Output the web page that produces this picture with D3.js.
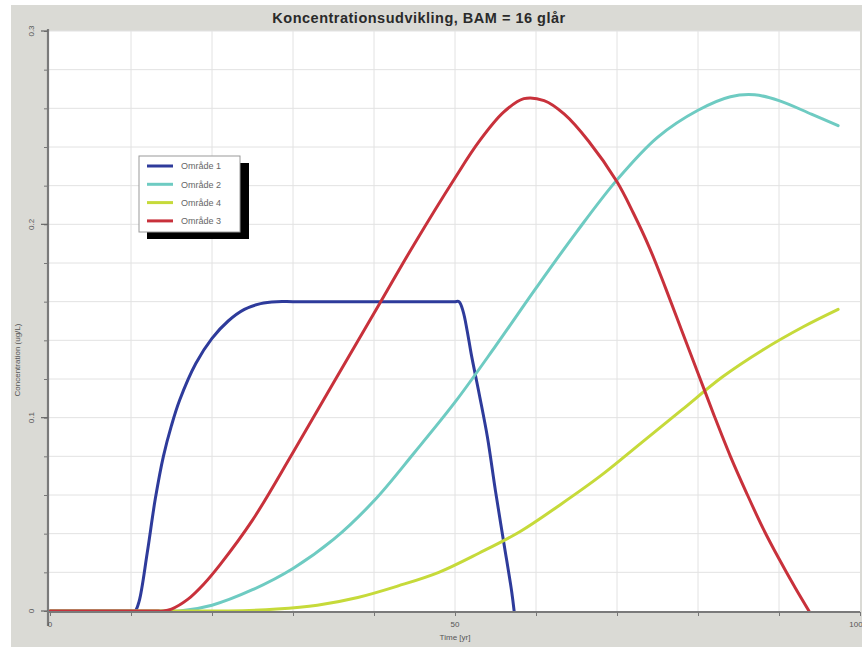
<!DOCTYPE html>
<html>
<head>
<meta charset="utf-8">
<script src="https://cdn.jsdelivr.net/npm/d3@7"></script>
<style>
  html, body { margin: 0; padding: 0; background: #ffffff; }
  svg { display: block; }
  text { font-family: "Liberation Sans", Arial, sans-serif; }
</style>
</head>
<body>
<svg id="chart" width="862" height="647"></svg>
<script>
// Time in years, concentration in ug/L
const omraade1 = [[0,0],[5,0],[9,0],[10,0],[10.5,0],[11,0.005],[12,0.03],[13,0.058],[14,0.08],[15,0.096],[16,0.109],[18,0.128],[20,0.141],[22,0.15],[24,0.156],[26,0.159],[28,0.16],[30,0.16],[35,0.16],[40,0.16],[45,0.16],[49,0.16],[50,0.16],[50.5,0.16],[51,0.155],[51.5,0.145],[52,0.133],[53,0.112],[54,0.09],[55,0.062],[56,0.036],[57,0.01],[57.3,0]];
const omraade2 = [[0,0],[5,0],[10,0],[14,0],[15,0],[16,0],[20,0.003],[25,0.011],[30,0.022],[35,0.037],[40,0.057],[45,0.082],[50,0.108],[55,0.137],[60,0.167],[65,0.196],[70,0.223],[75,0.245],[80,0.259],[84,0.266],[87,0.267],[90,0.264],[94,0.257],[97.3,0.251]];
const omraade4 = [[0,0],[5,0],[10,0],[15,0],[20,0],[21,0],[22,0],[28,0.001],[33,0.003],[38,0.007],[43,0.013],[48,0.02],[53,0.03],[58,0.041],[63,0.055],[68,0.07],[73,0.087],[78,0.104],[83,0.121],[88,0.135],[93,0.147],[97.3,0.156]];
const omraade3 = [[0,0],[5,0],[10,0],[13,0],[14,0],[15,0.001],[17,0.006],[19,0.014],[21,0.024],[25,0.047],[30,0.082],[35,0.118],[40,0.154],[45,0.19],[50,0.224],[53,0.243],[56,0.258],[58.5,0.265],[61,0.264],[63.5,0.257],[66.5,0.243],[70,0.222],[72,0.206],[74,0.188],[76,0.167],[78,0.145],[80,0.123],[82,0.101],[84,0.08],[86,0.061],[88,0.043],[90,0.027],[92,0.012],[93.7,0]];

const seriesNames = ["Område 1", "Område 2", "Område 4", "Område 3"];
const seriesColors = ["#2e3b9b", "#6ecbc2", "#c6da3a", "#c8313b"];
const seriesData = [omraade1, omraade2, omraade4, omraade3];

const xTickLabels = [0, 50, 100];
const yTickLabels = [0, 0.1, 0.2, 0.3];

const title = "Koncentrationsudvikling, BAM = 16 glår";
const xTitle = "Time [yr]";
const yTitle = "Concentration (ug/L)";

const svg = d3.select("#chart");
const W = 862, H = 647;
const plot = { left: 49, right: 860, top: 31, bottom: 612 };

// Panel background
svg.append("rect").attr("x", 11).attr("y", 5).attr("width", W - 11).attr("height", H - 5).attr("fill", "#dadad5");
svg.append("rect").attr("x", plot.left).attr("y", plot.top)
  .attr("width", plot.right - plot.left).attr("height", plot.bottom - plot.top).attr("fill", "#ffffff");

const x = d3.scaleLinear().domain([0, 100]).range([plot.left + 1, plot.right]);
const y = d3.scaleLinear().domain([0, 0.3]).range([plot.bottom - 1, plot.top]);

// Grid
const gx = d3.range(10, 100, 10);
const gy = d3.range(0.02, 0.3001, 0.02);
svg.append("g").selectAll("line").data(gx).join("line")
  .attr("x1", d => x(d)).attr("x2", d => x(d))
  .attr("y1", plot.top).attr("y2", plot.bottom)
  .attr("stroke", "#e2e2e2").attr("stroke-width", 1);
svg.append("g").selectAll("line").data(gy).join("line")
  .attr("x1", plot.left).attr("x2", plot.right)
  .attr("y1", d => y(d)).attr("y2", d => y(d))
  .attr("stroke", "#e2e2e2").attr("stroke-width", 1);

// Curves
const line = d3.line().x(d => x(d[0])).y(d => y(d[1])).curve(d3.curveCatmullRom.alpha(0.5));
svg.append("g").selectAll("path").data(seriesData).join("path")
  .attr("d", line)
  .attr("fill", "none")
  .attr("stroke", (d, i) => seriesColors[i])
  .attr("stroke-width", 3)
  .attr("stroke-linejoin", "round")
  .attr("stroke-linecap", "round");

// Y axis
const yAxis = d3.axisLeft(y).tickValues(d3.range(0, 0.3001, 0.02)).tickSize(4).tickFormat("");
const yg = svg.append("g").attr("transform", `translate(${plot.left - 1},0)`).call(yAxis);
yg.select(".domain").remove();
yg.selectAll(".tick line").attr("stroke", "#777");
svg.append("line").attr("x1", plot.left - 1).attr("x2", plot.left - 1)
  .attr("y1", plot.top - 2).attr("y2", plot.bottom + 14).attr("stroke", "#7a7a7a").attr("stroke-width", 2.2);
svg.append("g").selectAll("line").data(yTickLabels).join("line")
  .attr("x1", plot.left - 8).attr("x2", plot.left - 1)
  .attr("y1", d => y(d)).attr("y2", d => y(d))
  .attr("stroke", "#666").attr("stroke-width", 1.2);
svg.append("g").selectAll("text").data(yTickLabels).join("text")
  .attr("transform", d => `translate(${plot.left - 15},${y(d)}) rotate(-90)`)
  .attr("text-anchor", "middle")
  .attr("font-size", 8).attr("fill", "#555")
  .text(d => d3.format("~g")(d));

// X axis
svg.append("line").attr("x1", plot.left - 2).attr("x2", plot.right)
  .attr("y1", plot.bottom).attr("y2", plot.bottom).attr("stroke", "#7a7a7a").attr("stroke-width", 2.2);
const xAxis = d3.axisBottom(x).tickValues(d3.range(0, 100.1, 10)).tickSize(4).tickFormat("");
const xg = svg.append("g").attr("transform", `translate(0,${plot.bottom})`).call(xAxis);
xg.select(".domain").remove();
xg.selectAll(".tick line").attr("stroke", "#777");
svg.append("g").selectAll("text").data(xTickLabels).join("text")
  .attr("x", d => d === 100 ? x(d) - 4 : x(d))
  .attr("y", plot.bottom + 15)
  .attr("text-anchor", "middle")
  .attr("font-size", 8).attr("fill", "#555")
  .text(d => d);

// Titles
svg.append("text").attr("x", 419).attr("y", 23).attr("text-anchor", "middle")
  .attr("font-size", 14.5).attr("font-weight", "bold").attr("letter-spacing", 0.5)
  .attr("fill", "#2a2a2a").text(title);
svg.append("text").attr("x", 455).attr("y", 640).attr("text-anchor", "middle")
  .attr("font-size", 8).attr("fill", "#555").text(xTitle);
svg.append("text").attr("transform", "translate(20,360) rotate(-90)").attr("text-anchor", "middle")
  .attr("font-size", 8).attr("fill", "#555").text(yTitle);

// Legend with drop shadow
const lg = svg.append("g").attr("transform", "translate(139,156)");
lg.append("rect").attr("x", 8).attr("y", 7).attr("width", 102).attr("height", 76).attr("fill", "#000");
lg.append("rect").attr("x", 0).attr("y", 0).attr("width", 101).attr("height", 76)
  .attr("fill", "#ffffff").attr("stroke", "#9a9a9a").attr("stroke-width", 1);
const rows = lg.selectAll("g.row").data(seriesNames).join("g")
  .attr("class", "row")
  .attr("transform", (d, i) => `translate(0,${10 + i * 18.3})`);
rows.append("line").attr("x1", 8).attr("x2", 34).attr("y1", 0).attr("y2", 0)
  .attr("stroke", (d, i) => seriesColors[i]).attr("stroke-width", 3);
rows.append("text").attr("x", 42).attr("y", 3.2).attr("font-size", 9).attr("fill", "#666").text(d => d);
</script>
</body>
</html>
